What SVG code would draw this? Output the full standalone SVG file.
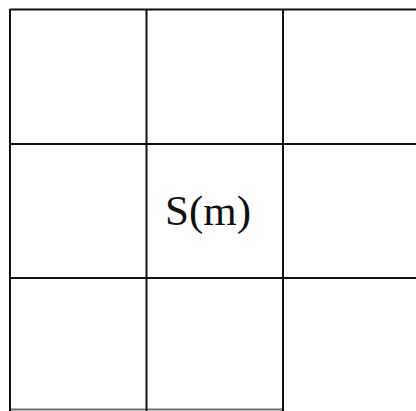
<svg xmlns="http://www.w3.org/2000/svg" width="416" height="411" viewBox="0 0 416 411">
<style>
.g{stroke:#111;stroke-width:2;fill:none}
.t{font-family:"Liberation Serif","Times New Roman",serif;font-size:43px;fill:#111}
</style>
<rect width="416" height="411" fill="#fff"/>
<g id="connectors">
<line class="g" x1="10" y1="9.5" x2="416" y2="9.5"/>
<line class="g" x1="10" y1="144" x2="416" y2="144"/>
<line class="g" x1="10" y1="278" x2="416" y2="278"/>
<line class="g" x1="10" y1="409.5" x2="283" y2="409.5" stroke-opacity="0.6"/>
<line class="g" x1="10" y1="9" x2="10" y2="411"/>
<line class="g" x1="146.5" y1="9" x2="146.5" y2="411"/>
<line class="g" x1="283" y1="9" x2="283" y2="411"/>
</g>
<g id="center">
<text class="t" x="165" y="225">S(m)</text>
</g>
</svg>
